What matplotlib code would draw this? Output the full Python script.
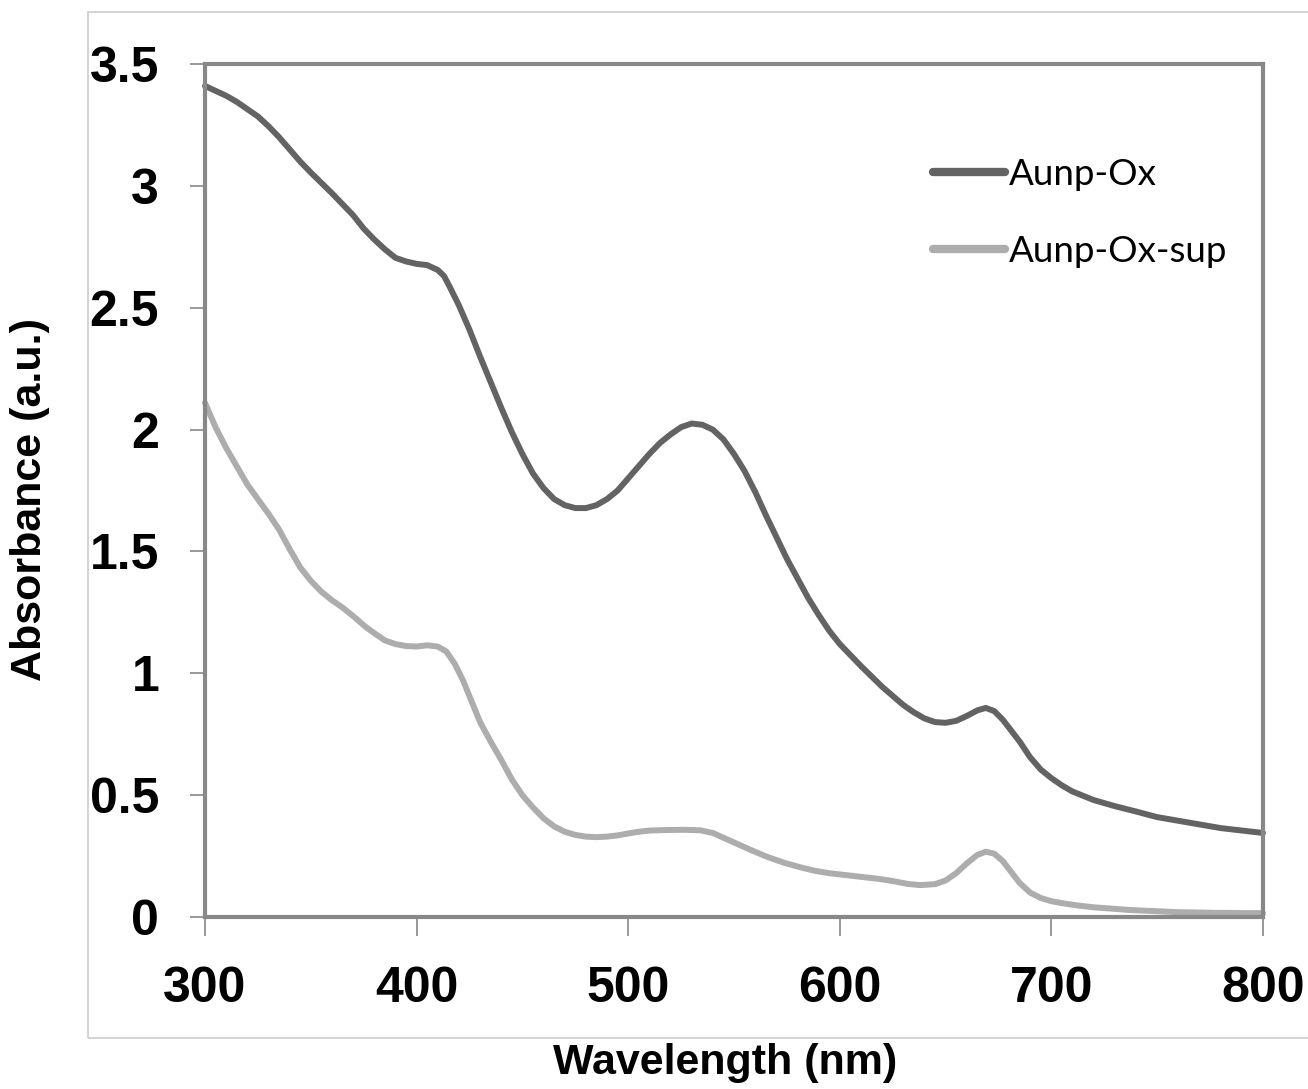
import matplotlib.pyplot as plt
from matplotlib.patches import Rectangle

# UV-vis spectra
wl_ox = [300, 305, 310, 315, 320, 325, 330, 335, 340, 345, 350, 360, 370, 375,
         380, 385, 390, 395, 400, 405, 410, 413, 416, 420, 425, 430, 435, 440,
         445, 450, 455, 460, 465, 470, 475, 480, 485, 490, 495, 500, 505, 510,
         515, 520, 525, 530, 535, 540, 545, 550, 555, 560, 565, 570, 575, 580,
         585, 590, 595, 600, 610, 620, 630, 635, 640, 645, 650, 655, 660, 665,
         669, 673, 677, 681, 685, 690, 695, 700, 705, 710, 720, 730, 740, 750,
         760, 770, 780, 790, 800]
abs_ox = [3.41, 3.39, 3.37, 3.345, 3.315, 3.285, 3.245, 3.20, 3.15, 3.10, 3.055,
          2.97, 2.88, 2.825, 2.78, 2.74, 2.705, 2.69, 2.68, 2.675, 2.655, 2.63,
          2.58, 2.51, 2.41, 2.30, 2.195, 2.09, 1.99, 1.90, 1.82, 1.76, 1.715,
          1.69, 1.678, 1.678, 1.69, 1.715, 1.75, 1.80, 1.85, 1.90, 1.945, 1.98,
          2.01, 2.025, 2.02, 2.00, 1.96, 1.90, 1.83, 1.745, 1.65, 1.56, 1.47,
          1.39, 1.31, 1.24, 1.175, 1.12, 1.03, 0.945, 0.87, 0.84, 0.815, 0.80,
          0.797, 0.805, 0.825, 0.848, 0.858, 0.845, 0.81, 0.765, 0.72, 0.655,
          0.605, 0.57, 0.54, 0.515, 0.48, 0.455, 0.433, 0.41, 0.395, 0.38, 0.365,
          0.355, 0.345]

wl_sup = [300, 305, 310, 315, 320, 325, 330, 335, 340, 345, 350, 355, 360, 365,
          370, 376, 380, 385, 390, 395, 400, 405, 410, 414, 418, 422, 426, 430,
          435, 440, 445, 450, 455, 460, 465, 470, 475, 480, 485, 490, 495, 500,
          505, 510, 518, 526, 534, 540, 549, 558, 566, 574, 581, 588, 595, 603,
          610, 618, 625, 632, 638, 645, 650, 655, 660, 665, 669, 673, 677, 681,
          685, 690, 695, 700, 705, 712, 720, 737, 760, 780, 800]
abs_sup = [2.11, 2.01, 1.925, 1.85, 1.775, 1.715, 1.655, 1.59, 1.51, 1.435,
           1.38, 1.335, 1.30, 1.27, 1.235, 1.19, 1.165, 1.135, 1.12, 1.112, 1.11,
           1.115, 1.11, 1.09, 1.04, 0.97, 0.885, 0.80, 0.72, 0.645, 0.565, 0.50,
           0.45, 0.405, 0.372, 0.35, 0.337, 0.33, 0.328, 0.33, 0.335, 0.343,
           0.35, 0.355, 0.357, 0.358, 0.356, 0.345, 0.31, 0.275, 0.246, 0.222,
           0.205, 0.19, 0.18, 0.172, 0.165, 0.157, 0.148, 0.136, 0.131, 0.135,
           0.15, 0.18, 0.22, 0.255, 0.268, 0.26, 0.23, 0.185, 0.14, 0.10, 0.078,
           0.065, 0.057, 0.048, 0.04, 0.029, 0.02, 0.017, 0.016]

xticks = [300, 400, 500, 600, 700, 800]
yticks = [0, 0.5, 1, 1.5, 2, 2.5, 3, 3.5]
ytick_labels = ['0', '0.5', '1', '1.5', '2', '2.5', '3', '3.5']

bold = ['Liberation Sans', 'DejaVu Sans']
leg_font = ['Lato', 'DejaVu Sans']

fig = plt.figure(figsize=(13.08, 10.89), dpi=100)
ax = fig.add_axes([0.1567, 0.1579, 0.8089, 0.7833])

# light outer frame of the chart area
fig.patches.append(Rectangle((0.0673, 0.0468), 0.96, 0.942, transform=fig.transFigure,
                             fill=False, edgecolor='#cccccc', linewidth=1.2, zorder=0))

ax.plot(wl_ox, abs_ox, color='#636363', lw=4.3, label='Aunp-Ox',
        solid_joinstyle='round', solid_capstyle='round', clip_on=False)
ax.plot(wl_sup, abs_sup, color='#adadad', lw=4.3, label='Aunp-Ox-sup',
        solid_joinstyle='round', solid_capstyle='round', clip_on=False)

ax.set_xlim(300, 800)
ax.set_ylim(0, 3.5)
ax.set_xticks(xticks)
ax.set_xticklabels([str(t) for t in xticks], family=bold, fontweight='bold', fontsize=36)
ax.set_yticks(yticks)
ax.set_yticklabels(ytick_labels, family=bold, fontweight='bold', fontsize=36)
ax.tick_params(axis='both', direction='out', color='#888888', width=1.2)
ax.tick_params(axis='y', length=11, pad=22)
ax.tick_params(axis='x', length=14, pad=21)

for s in ax.spines.values():
    s.set_color('#888888')
    s.set_linewidth(3)

ax.set_xlabel('Wavelength (nm)', family=bold, fontweight='bold', fontsize=31, va='top')
ax.xaxis.set_label_coords(0.492, -0.148)
ax.set_ylabel('Absorbance (a.u.)', family=bold, fontweight='bold', fontsize=31)
ax.yaxis.set_label_coords(-0.146, 0.49)

leg = ax.legend(loc='upper left', bbox_to_anchor=(0.688, 0.89), frameon=False,
                prop={'family': leg_font, 'size': 26.5}, handlelength=1.95,
                handletextpad=0.12, labelspacing=1.2, borderpad=0, borderaxespad=0)
for h in leg.get_lines():
    h.set_linewidth(6)

fig.savefig('out.png', dpi=100)
